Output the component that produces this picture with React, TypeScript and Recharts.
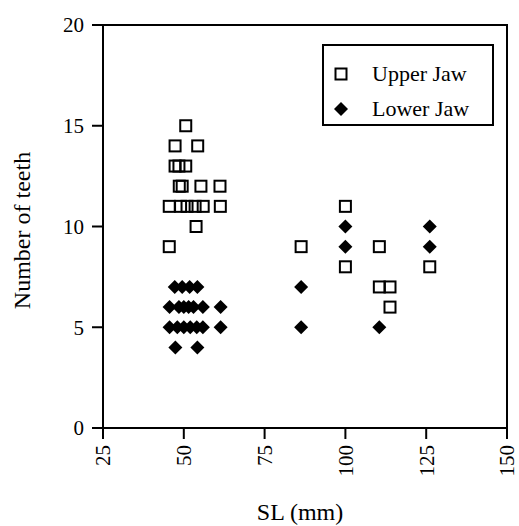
import React from "react";
import { ScatterChart, Scatter, XAxis, YAxis, ReferenceArea, Legend } from "recharts";

const xTicks = [25, 50, 75, 100, 125, 150];
const yTicks = [0, 5, 10, 15, 20];

const upperSL = [50.6, 47.3, 54.3, 47.3, 48.5, 50.6, 48.6, 49.5, 55.3, 61.2, 45.5, 49, 51, 53.5, 56, 61.3, 53.8, 45.5, 86.3, 100, 100, 110.5, 110.5, 113.8, 113.8, 126.1];
const upperTeeth = [15, 14, 14, 13, 13, 13, 12, 12, 12, 12, 11, 11, 11, 11, 11, 11, 10, 9, 9, 11, 8, 9, 7, 7, 6, 8];

const lowerSL = [47.2, 49.5, 51.8, 54.2, 45.6, 48.5, 50, 51.5, 53, 55.9, 61.4, 45.6, 48, 50, 52, 54, 55.9, 61.4, 47.4, 54.2, 86.3, 86.3, 100, 100, 110.5, 126.1, 126.1];
const lowerTeeth = [7, 7, 7, 7, 6, 6, 6, 6, 6, 6, 6, 5, 5, 5, 5, 5, 5, 5, 4, 4, 7, 5, 10, 9, 5, 10, 9];

const seriesNames = ["Upper Jaw", "Lower Jaw"];

const upperData = upperSL.map((sl, i) => ({ sl, teeth: upperTeeth[i] }));
const lowerData = lowerSL.map((sl, i) => ({ sl, teeth: lowerTeeth[i] }));

const FONT = "Liberation Serif, serif";

const SquareShape = (props: any) => {
  const { cx, cy } = props;
  return <rect x={cx - 5.5} y={cy - 5.5} width={11} height={11} fill="none" stroke="#000" strokeWidth={2} />;
};

const DiamondShape = (props: any) => {
  const { cx, cy } = props;
  const r = 7;
  return <path d={`M${cx},${cy - r}L${cx + r},${cy}L${cx},${cy + r}L${cx - r},${cy}Z`} fill="#000" />;
};

const XTick = (props: any) => {
  const { x, y, payload } = props;
  return (
    <g transform={`translate(${x},${y})`}>
      <text transform="rotate(-90)" textAnchor="end" dy="0.35em" fontSize={21} style={{ fontFamily: FONT }} fill="#000">
        {payload.value}
      </text>
    </g>
  );
};

const YTick = (props: any) => {
  const { x, y, payload } = props;
  return (
    <text x={x} y={y} textAnchor="end" dy="0.35em" fontSize={21} style={{ fontFamily: FONT }} fill="#000">
      {payload.value}
    </text>
  );
};

const LegendContent = () => {
  return (
    <div
      style={{
        width: 172,
        height: 82,
        border: "2px solid #000",
        boxSizing: "border-box",
        background: "#fff",
        fontFamily: FONT,
        fontSize: 22,
        color: "#000",
        paddingTop: 10,
      }}
    >
      {seriesNames.map((name, i) => (
        <div key={name} style={{ display: "flex", alignItems: "center", height: 35 }}>
          <svg width={44} height={20}>
            {i === 0 ? (
              <rect x={11.5} y={4.5} width={11} height={11} fill="none" stroke="#000" strokeWidth={2} />
            ) : (
              <path d="M17,3L24,10L17,17L10,10Z" fill="#000" />
            )}
          </svg>
          <span style={{ marginLeft: 4 }}>{name}</span>
        </div>
      ))}
    </div>
  );
};

export default function App() {
  return (
    <div style={{ position: "absolute", left: 0, top: 0, width: 519, height: 526, background: "#fff", fontFamily: FONT }}>
      <ScatterChart width={519} height={526} margin={{ top: 25, right: 12, bottom: 0, left: 0 }}>
        <XAxis
          type="number"
          dataKey="sl"
          domain={[25, 150]}
          ticks={xTicks}
          height={98}
          tickSize={11}
          tickMargin={6}
          axisLine={{ stroke: "#000", strokeWidth: 2 }}
          tickLine={{ stroke: "#000", strokeWidth: 2 }}
          tick={<XTick />}
          interval={0}
          label={{
            content: (p: any) => (
              <text
                x={p.viewBox.x + p.viewBox.width / 2 - 5}
                y={p.viewBox.y + p.viewBox.height - 6}
                textAnchor="middle"
                fontSize={24}
                style={{ fontFamily: FONT }}
                fill="#000"
              >
                SL (mm)
              </text>
            ),
          }}
        />
        <YAxis
          type="number"
          dataKey="teeth"
          domain={[0, 20]}
          ticks={yTicks}
          width={103}
          tickSize={11}
          tickMargin={8}
          axisLine={{ stroke: "#000", strokeWidth: 2 }}
          tickLine={{ stroke: "#000", strokeWidth: 2 }}
          tick={<YTick />}
          interval={0}
          label={{
            content: (p: any) => {
              const cx = p.viewBox.x + 22;
              const cy = p.viewBox.y + p.viewBox.height / 2 + 4;
              return (
                <text
                  x={cx}
                  y={cy}
                  transform={`rotate(-90, ${cx}, ${cy})`}
                  textAnchor="middle"
                  dominantBaseline="central"
                  fontSize={24}
                  style={{ fontFamily: FONT }}
                  fill="#000"
                >
                  Number of teeth
                </text>
              );
            },
          }}
        />
        <ReferenceArea x1={25} x2={150} y1={0} y2={20} fill="none" stroke="#000" strokeWidth={2} />
        <Scatter name={seriesNames[0]} data={upperData} shape={<SquareShape />} fill="#000" isAnimationActive={false} />
        <Scatter name={seriesNames[1]} data={lowerData} shape={<DiamondShape />} fill="#000" isAnimationActive={false} />
        <Legend
          layout="vertical"
          align="center"
          verticalAlign="middle"
          content={<LegendContent />}
          wrapperStyle={{ position: "absolute", left: 322, top: 44, width: 172, height: 82 }}
        />
      </ScatterChart>
    </div>
  );
}
